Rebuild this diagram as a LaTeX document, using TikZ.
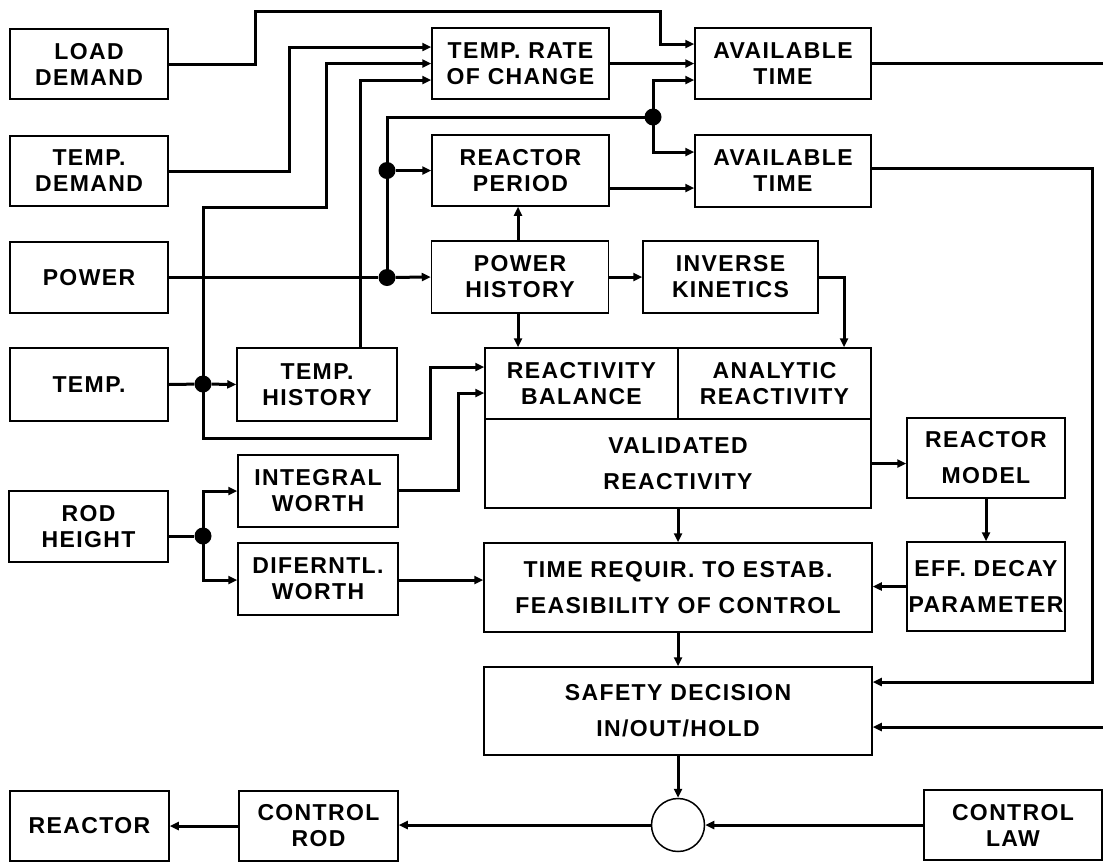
\documentclass[tikz,border=0pt]{standalone}
\usepackage{fontspec}
\setmainfont{Liberation Sans}[LetterSpace=6]
\usetikzlibrary{arrows.meta}
\tikzset{
  box/.style={draw, line width=1.5pt, inner sep=0pt, align=center,
    font=\fontsize{23}{26}\selectfont\bfseries},
  conn/.style={line width=3pt},
  arr/.style={conn, -{Triangle[length=9pt,width=8pt]}},
  jdot/.style={circle, fill, inner sep=0pt, minimum size=17pt},
}
\begin{document}
\begin{tikzpicture}[x=1pt,y=-1pt]
\useasboundingbox (0,0) rectangle (1103,863);
% boxes
\node[box, minimum width=158pt, minimum height=70pt] (load) at (89,64) {LOAD\\DEMAND};
\node[box, minimum width=158pt, minimum height=70pt] (tdem) at (89,171) {TEMP.\\DEMAND};
\node[box, minimum width=158pt, minimum height=71pt] (power) at (89,277.5) {POWER};
\node[box, minimum width=158pt, minimum height=73pt] (temp) at (89,384.5) {TEMP.};
\node[box, minimum width=159pt, minimum height=71pt] (rodh) at (88.5,526.5) {ROD\\HEIGHT};
\node[box, minimum width=160pt, minimum height=73pt] (thist) at (317,384.5) {TEMP.\\HISTORY};
\node[box, minimum width=160pt, minimum height=72pt] (iw) at (318,491) {INTEGRAL\\WORTH};
\node[box, minimum width=160pt, minimum height=72pt] (dw) at (318,579) {DIFERNTL.\\WORTH};
\node[box, minimum width=177pt, minimum height=71pt] (trate) at (520.5,63.5) {TEMP. RATE\\OF CHANGE};
\node[box, minimum width=176pt, minimum height=71pt] (avt1) at (783,63.5) {AVAILABLE\\TIME};
\node[box, minimum width=177pt, minimum height=71pt] (rper) at (520.5,170.5) {REACTOR\\PERIOD};
\node[box, minimum width=176pt, minimum height=72pt] (avt2) at (783,171) {AVAILABLE\\TIME};
\node[box, minimum width=177pt, minimum height=72pt] (phist) at (520,277) {POWER\\HISTORY};
\node[box, minimum width=175pt, minimum height=72pt] (ikin) at (730.5,277) {INVERSE\\KINETICS};
\node[box, minimum width=193pt, minimum height=71pt] (rb) at (581.5,383.5) {REACTIVITY\\BALANCE};
\node[box, minimum width=193pt, minimum height=71pt] (ar) at (774.5,383.5) {ANALYTIC\\REACTIVITY};
\node[box, minimum width=386pt, minimum height=89pt] (val) at (678,463.5) {VALIDATED\\[10pt]REACTIVITY};
\node[box, minimum width=158pt, minimum height=80pt] (rmod) at (986,458) {REACTOR\\[10pt]MODEL};
\node[box, minimum width=158pt, minimum height=89pt] (eff) at (986,586.5) {EFF. DECAY\\[10pt]PARAMETER};
\node[box, minimum width=388pt, minimum height=89pt] (treq) at (678,587.5) {TIME REQUIR. TO ESTAB.\\[10pt]FEASIBILITY OF CONTROL};
\node[box, minimum width=388pt, minimum height=88pt] (safe) at (678,711) {SAFETY DECISION\\[10pt]IN/OUT/HOLD};
\node[draw, circle, line width=1.5pt, inner sep=0pt, minimum size=53pt] (circ) at (678,825) {};
\node[box, minimum width=159pt, minimum height=70pt] (reactor) at (89.5,826) {REACTOR};
\node[box, minimum width=159pt, minimum height=70pt] (crod) at (318.5,826) {CONTROL\\ROD};
\node[box, minimum width=178pt, minimum height=70pt] (claw) at (1013,825) {CONTROL\\LAW};
% junction dots
\node[jdot] (d1) at (203,384) {};
\node[jdot] (d2) at (387,277.5) {};
\node[jdot] (d3) at (387,170.5) {};
\node[jdot] (d4) at (653,117) {};
\node[jdot] (d5) at (203,536) {};
\coordinate (aout) at (1103,63.5);
\coordinate (rin) at (1103,727);
% connectors
\draw[arr] (load.east) -- (255,64) -- (255,11) -- (660,11) -- (660,44) -- ([yshift=19.5pt]avt1.west);
\draw[arr] (tdem.east) -- (289,171) -- (289,47) -- ([yshift=16.5pt]trate.west);
\draw[conn] (temp.east) -- (d1);
\draw[arr] (d1) -- (thist.west);
\draw[arr] (d1.center) -- (203,207) -- (326,207) -- (326,63.5) -- (trate.west);
\draw[arr] (d1.center) -- (203,438) -- (430,438) -- (430,367) -- ([yshift=16.5pt]rb.west);
\draw[arr] ([xshift=43pt]thist.north) -- (360,80) -- ([yshift=-16.5pt]trate.west);
\draw[conn] (power.east) -- (d2);
\draw[arr] (d2) -- (phist.west);
\draw[arr] (d3) -- (rper.west);
\draw[conn] (d2.center) -- (d3.center) -- (387,117) -- (d4.center);
\draw[arr] (d4.center) -- (653,80) -- ([yshift=-16.5pt]avt1.west);
\draw[arr] (d4.center) -- (653,152) -- ([yshift=19pt]avt2.west);
\draw[arr] (trate.east) -- (avt1.west);
\draw[arr] ([yshift=-17.5pt]rper.east) -- ([yshift=-17pt]avt2.west);
\draw[conn] (avt1.east) -- (aout);
\draw[arr] ([yshift=3pt]avt2.east) -- (1092,168) -- (1092,682) -- ([yshift=29pt]safe.east);
\draw[arr] (rin) -- ([yshift=-16pt]safe.east);
\draw[arr] ([xshift=-2pt]phist.north) -- ([xshift=-2.5pt]rper.south);
\draw[arr] ([xshift=-2pt]phist.south) -- ([xshift=-63.5pt]rb.north);
\draw[arr] (phist.east) -- (ikin.west);
\draw[arr] (ikin.east) -- (844,277) -- ([xshift=69.5pt]ar.north);
\draw[arr] ([yshift=1pt]iw.east) -- (458,490) -- (458,393) -- ([yshift=-9.5pt]rb.west);
\draw[conn] ([yshift=-9.5pt]rodh.east) -- (d5);
\draw[arr] (d5.center) -- (203,491) -- (iw.west);
\draw[arr] (d5.center) -- (203,580) -- ([yshift=-1pt]dw.west);
\draw[arr] ([yshift=-1pt]dw.east) -- ([yshift=7.5pt]treq.west);
\draw[arr] (val.east) -- (val.east -| rmod.west);
\draw[arr] (val.south) -- (treq.north);
\draw[arr] (rmod.south) -- (eff.north);
\draw[arr] (eff.west) -- (eff.west -| treq.east);
\draw[arr] (treq.south) -- (safe.north);
\draw[arr] (safe.south) -- (circ.north);
\draw[arr] (claw.west) -- (circ.east);
\draw[arr] (circ.west) -- (circ.west -| crod.east);
\draw[arr] (crod.west) -- (reactor.east);
\end{tikzpicture}
\end{document}
